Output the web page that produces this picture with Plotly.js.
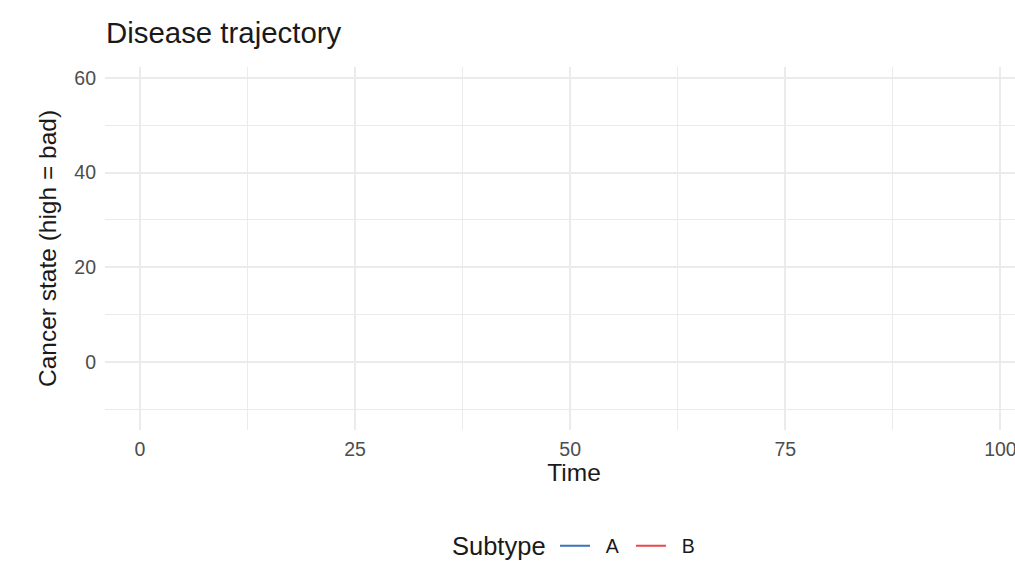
<!DOCTYPE html>
<html>
<head>
<meta charset="utf-8">
<script src="https://cdn.plot.ly/plotly-3.0.1.min.js"></script>
<style>html,body{margin:0;padding:0;background:#fff;overflow:hidden;}#chart{width:1043px;height:563px;}</style>
</head>
<body>
<div id="chart"></div>
<script>
// Data: the reference chart shows no drawn trajectories, only the legend entries
const subtypes = ["A", "B"];
const subtypeColors = ["#3B73B9", "#E8474D"];
const timeA = [];
const stateA = [];
const timeB = [];
const stateB = [];
const xTicks = [0, 25, 50, 75, 100];
const yTicks = [0, 20, 40, 60];

const FONT = "Liberation Sans, Arial, Helvetica, sans-serif";
// Plotly hides traces with zero-length data; a single null keeps the legend entry without drawing a mark
const orNull = a => (a.length ? a : [null]);
const pad = "\u00a0\u00a0";

const traces = [
  {x: orNull(timeA), y: orNull(stateA), name: pad + subtypes[0], type: "scatter", mode: "lines",
   line: {color: subtypeColors[0], width: 2}, showlegend: true},
  {x: orNull(timeB), y: orNull(stateB), name: pad + subtypes[1], type: "scatter", mode: "lines",
   line: {color: subtypeColors[1], width: 2}, showlegend: true}
];

const layout = {
  width: 1043, height: 563,
  paper_bgcolor: "#ffffff", plot_bgcolor: "#ffffff",
  font: {family: FONT, color: "#1a1a1a"},
  margin: {l: 105, r: 0, t: 67, b: 133, pad: 0},
  title: {text: "Disease trajectory", font: {size: 29.4, color: "#1a1a1a", family: FONT},
          xref: "container", yref: "container", x: 106/1043, xanchor: "left",
          y: 1 - 33/563, yanchor: "middle"},
  xaxis: {
    range: [-4.07, 104.95], autorange: false, automargin: false,
    tickmode: "array", tickvals: xTicks, ticktext: xTicks.map(String),
    tickfont: {size: 19.5, color: "#4d4d4d"}, ticks: "", ticklabelstandoff: 5,
    showgrid: true, gridcolor: "#ebebeb", gridwidth: 2,
    minor: {tickmode: "array", tickvals: [12.5, 37.5, 62.5, 87.5], showgrid: true, gridcolor: "#ebebeb", gridwidth: 1},
    zeroline: false, showline: false,
    title: {text: "Time", font: {size: 24.5, color: "#1a1a1a"}, standoff: 5}
  },
  yaxis: {
    range: [-14.4, 62.3], autorange: false, automargin: false,
    tickmode: "array", tickvals: yTicks, ticktext: yTicks.map(String),
    tickfont: {size: 19.5, color: "#4d4d4d"}, ticks: "", ticklabelstandoff: 8,
    showgrid: true, gridcolor: "#ebebeb", gridwidth: 2,
    minor: {tickmode: "array", tickvals: [-10, 10, 30, 50], showgrid: true, gridcolor: "#ebebeb", gridwidth: 1},
    zeroline: false, showline: false,
    title: {text: "Cancer state (high = bad)", font: {size: 24.5, color: "#1a1a1a"}, standoff: 10}
  },
  showlegend: true,
  legend: {
    orientation: "h", xref: "container", yref: "container",
    x: 555/1043, xanchor: "left", y: 1 - 546/563, yanchor: "middle",
    font: {size: 19.5, color: "#1a1a1a"},
    bgcolor: "rgba(0,0,0,0)", entrywidth: 31, entrywidthmode: "pixels"
  },
  annotations: [
    {text: "Subtype", xref: "paper", yref: "paper", showarrow: false,
     x: (450 - 105) / 938, xanchor: "left", y: -(546 - 430) / 363, yanchor: "middle",
     font: {size: 25.5, color: "#1a1a1a"}}
  ]
};

Plotly.newPlot("chart", traces, layout, {displayModeBar: false, responsive: false});
</script>
</body>
</html>
